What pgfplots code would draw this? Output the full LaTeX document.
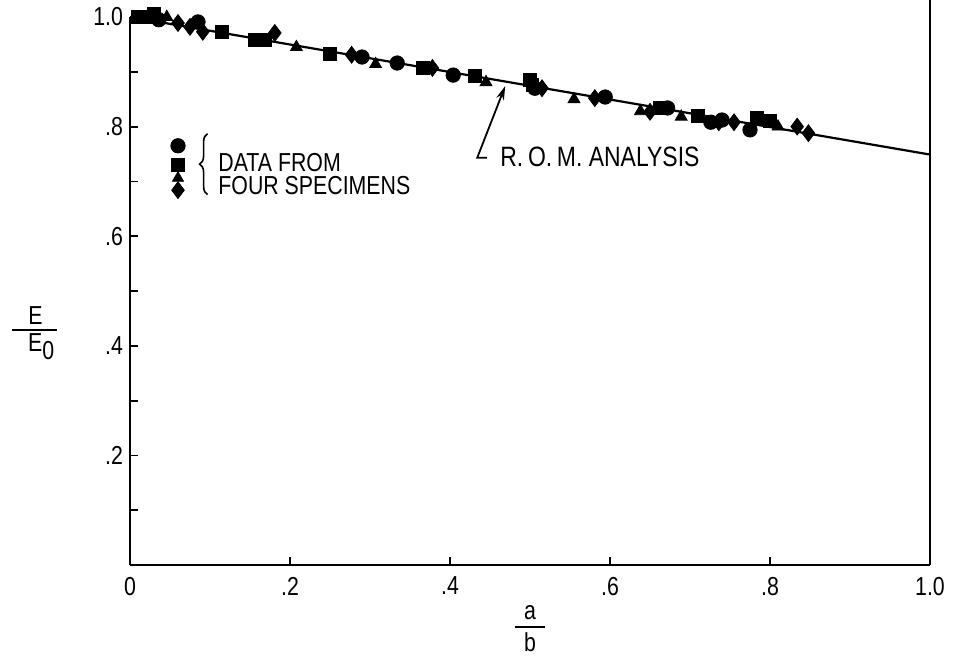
\documentclass[border=0pt]{standalone}
\usepackage{fontspec}
\setmainfont{Liberation Sans}[FakeStretch=0.82]
\usepackage{pgfplots}
\pgfplotsset{compat=1.18}
\usetikzlibrary{arrows.meta,decorations.pathreplacing}

\pgfplotstableread{
x y
0.036 0.995
0.085 0.991
0.290 0.927
0.334 0.916
0.404 0.894
0.506 0.870
0.594 0.854
0.672 0.834
0.726 0.808
0.740 0.812
0.775 0.794
}\circles
\pgfplotstableread{
x y
0.010 1.000
0.022 1.000
0.030 1.005
0.115 0.973
0.156 0.958
0.169 0.958
0.250 0.932
0.366 0.907
0.431 0.892
0.500 0.885
0.503 0.876
0.662 0.834
0.710 0.819
0.784 0.816
0.800 0.810
}\squares
\pgfplotstableread{
x y
0.046 1.000
0.162 0.956
0.208 0.945
0.307 0.914
0.445 0.881
0.555 0.850
0.638 0.828
0.689 0.818
0.810 0.800
}\triangles
\pgfplotstableread{
x y
0.060 0.989
0.075 0.982
0.091 0.973
0.181 0.971
0.277 0.931
0.378 0.907
0.515 0.870
0.581 0.852
0.650 0.827
0.736 0.808
0.755 0.808
0.834 0.800
0.848 0.788
}\diamonds

\begin{document}
\begin{tikzpicture}
\begin{axis}[
  scale only axis, width=400pt, height=274pt,
  xmin=0, xmax=1, ymin=0, ymax=1,
  axis x line*=bottom, axis y line*=left,
  axis line style={line width=1.2pt, -},
  xtick={0,0.2,0.4,0.6,0.8,1.0}, xticklabels={0,.2,.4,.6,.8,1.0},
  ytick={0.2,0.4,0.6,0.8,1.0}, yticklabels={.2,.4,.6,.8,1.0},
  minor ytick={0.1,0.3,0.5,0.7,0.9},
  tick align=inside, major tick length=4pt, minor tick length=4pt,
  tick style={line width=0.9pt, black},
  tick label style={font=\fontsize{13}{15}\selectfont},
  xticklabel style={yshift=-2.5pt},
  clip=false,
]
% R.O.M. analysis
\addplot[black, line width=1.1pt] coordinates {(0,1.0) (1.0,0.749)};
% four specimens
\addplot[only marks, mark=*, mark size=3.6pt, black] table {\circles};
\addplot[only marks, mark=square*, mark size=3.2pt, black] table {\squares};
\addplot[only marks, mark=triangle*, mark size=3.4pt, black] table {\triangles};
\addplot[only marks, mark=diamond*, mark size=4.2pt, black] table {\diamonds};
% key markers
\addplot[only marks, mark=*, mark size=3.6pt, black] coordinates {(0.06,0.765)};
\addplot[only marks, mark=square*, mark size=3.2pt, black] coordinates {(0.06,0.730)};
\addplot[only marks, mark=triangle*, mark size=3.2pt, black] coordinates {(0.06,0.706)};
\addplot[only marks, mark=diamond*, mark size=4.2pt, black] coordinates {(0.06,0.684)};
\draw[line width=0.8pt, decorate, decoration={brace, amplitude=4pt}]
  (axis cs:0.097,0.676) -- (axis cs:0.097,0.787);
\node[anchor=west, font=\fontsize{13}{15}\selectfont, inner sep=0pt] at (axis cs:0.110,0.734) {DATA FROM};
\node[anchor=west, font=\fontsize{13}{15}\selectfont, inner sep=0pt] at (axis cs:0.110,0.692) {FOUR SPECIMENS};
% annotation
\draw[line width=0.9pt, -{Stealth[length=7pt,width=4pt]}]
  (axis cs:0.446,0.743) -- (axis cs:0.434,0.743) -- (axis cs:0.469,0.874);
\node[anchor=west, font=\fontsize{14}{16}\selectfont, inner sep=0pt] at (axis cs:0.4625,0.745) {R.\,O.\,M. ANALYSIS};
% right border
\draw[line width=1.2pt] (axis cs:1,0) -- (axis cs:1,1.031);
% axis labels
\node[font=\fontsize{13}{15}\selectfont] at (axis cs:-0.118,0.455) {E};
\draw[line width=0.9pt] (axis cs:-0.147,0.429) -- (axis cs:-0.091,0.429);
\node[font=\fontsize{13}{15}\selectfont] at (axis cs:-0.111,0.398) {E\raisebox{-4pt}{0}};
\node[font=\fontsize{13}{15}\selectfont] at (axis cs:0.5,-0.086) {a};
\draw[line width=0.9pt] (axis cs:0.481,-0.113) -- (axis cs:0.519,-0.113);
\node[font=\fontsize{13}{15}\selectfont] at (axis cs:0.5,-0.141) {b};
\end{axis}
\pgfresetboundingbox
\path[use as bounding box] (-65pt,-45pt) rectangle (413pt,282.5pt);
\end{tikzpicture}
\end{document}
